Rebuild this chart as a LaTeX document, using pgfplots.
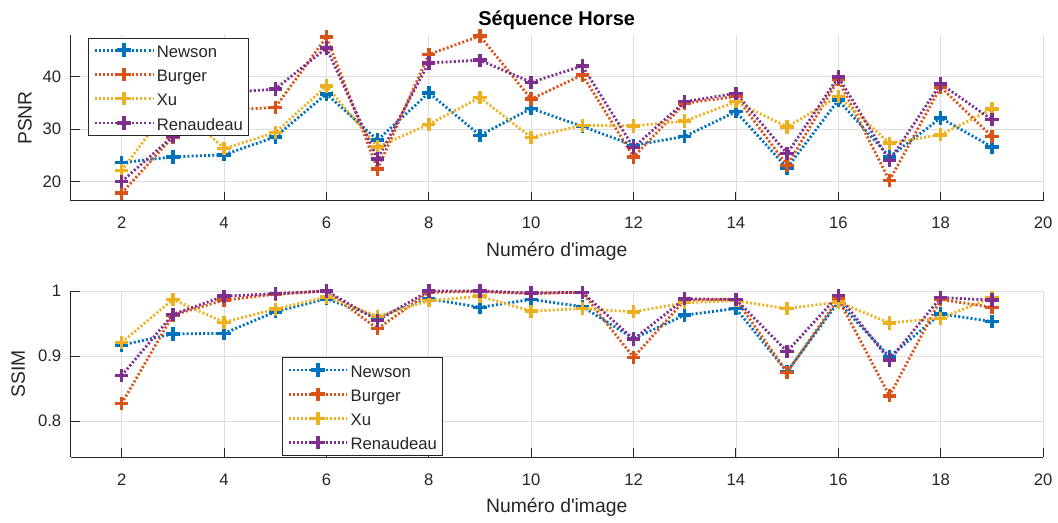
\documentclass[border=0pt]{standalone}
\usepackage{pgfplots}
\pgfplotsset{compat=1.18}
\usepackage{fontspec}
\setmainfont{Liberation Sans}
\definecolor{mblue}{rgb}{0,0.447,0.741}
\definecolor{morange}{rgb}{0.85,0.325,0.098}
\definecolor{myellow}{rgb}{0.929,0.694,0.125}
\definecolor{mpurple}{rgb}{0.494,0.184,0.556}
\definecolor{axgray}{rgb}{0.15,0.15,0.15}
\definecolor{gridgray}{rgb}{0.87,0.87,0.87}
\pgfplotsset{
  every axis title shift/.style={yshift=0pt},
  mystyle/.style={
    scale only axis, width=729.4pt, height=124.5pt,
    xmin=1, xmax=20, xtick={2,4,...,20},
    axis x line*=bottom, axis y line*=left,
    axis line style={axgray, line width=0.75pt, -},
    tick style={axgray, line width=0.75pt},
    major tick length=7pt, tick align=inside,
    grid=major, grid style={gridgray, line width=0.6pt},
    /pgf/number format/assume math mode=true,
    ticklabel style={font=\fontsize{12.5}{14}\selectfont, text=axgray},
    x tick label style={anchor=base, yshift=-21pt, inner sep=0pt},
    y tick label style={anchor=east, inner sep=0pt, xshift=-6.75pt},
    label style={font=\fontsize{14.5}{16}\selectfont, text=axgray},
    xlabel style={at={(axis description cs:0.5,-0.337)}, anchor=base},
    clip=false,
    legend cell align=left,
    legend image code/.code={\draw[mark repeat=2,mark phase=2] plot coordinates {(0pt,0pt) (22pt,0pt) (44pt,0pt)}; \path (45.5pt,0pt);},
    legend style={draw=axgray, line width=0.5pt, fill=white,
      font=\fontsize{12.5}{15}\selectfont, text=axgray,
      inner xsep=4pt, inner ysep=0pt, row sep=0pt,
      nodes={inner sep=0pt, text height=14.5pt, text depth=3.7pt}},
  },
  ser/.style={color=#1, line width=2.1pt, dash pattern=on 1.5pt off 1.6pt,
    mark=+, mark size=5pt, mark options={solid, line width=2.6pt}},
}
\begin{document}
\begin{tikzpicture}
\path[use as bounding box] (0pt,0pt) rectangle (793.5pt,391.5pt);
\begin{axis}[mystyle, at={(52.875pt,240.75pt)}, anchor=south west,
  ymin=16.3, ymax=47.9, ytick={20,30,40},
  title={Séquence Horse},
  title style={font=\fontsize{15}{17}\selectfont\bfseries, text=black, at={(axis description cs:0.5,1.012)}, anchor=base},
  ylabel={PSNR},
  ylabel style={at={(axis description cs:-0.0399,0.5)}, anchor=base},
  xlabel={Numéro d\textquotesingle image},
  legend style={at={(rel axis cs:0.0177,0.984)}, anchor=north west}]
\addplot[ser=mblue] coordinates {(2,23.6) (3,24.7) (4,25.1) (5,28.5) (6,36.7) (7,27.9) (8,36.9) (9,28.8) (10,33.9) (11,30.5) (12,26.9) (13,28.6) (14,33.3) (15,22.6) (16,35.5) (17,24.7) (18,32.1) (19,26.6)};
\addplot[ser=morange] coordinates {(2,17.8) (3,28.5) (4,33.6) (5,34.1) (6,47.5) (7,22.4) (8,44.2) (9,47.7) (10,35.7) (11,40.3) (12,24.7) (13,34.9) (14,36.2) (15,23.1) (16,39.4) (17,20.2) (18,38.0) (19,28.6)};
\addplot[ser=myellow] coordinates {(2,22.1) (3,35.2) (4,26.3) (5,29.3) (6,38.2) (7,26.6) (8,30.9) (9,36.0) (10,28.4) (11,30.7) (12,30.6) (13,31.5) (14,35.2) (15,30.4) (16,36.2) (17,27.3) (18,28.9) (19,33.8)};
\addplot[ser=mpurple] coordinates {(2,20.0) (3,28.6) (4,36.9) (5,37.6) (6,45.4) (7,24.3) (8,42.6) (9,43.1) (10,38.9) (11,42.0) (12,26.5) (13,35.2) (14,36.8) (15,25.3) (16,39.9) (17,24.0) (18,38.6) (19,31.8)};
\legend{Newson,Burger,Xu,Renaudeau}
\end{axis}
\begin{axis}[mystyle, at={(52.875pt,48.75pt)}, anchor=south west,
  ymin=0.745, ymax=1, ytick={0.8,0.9,1},
  ylabel={SSIM},
  ylabel style={at={(axis description cs:-0.0468,0.5)}, anchor=base},
  xlabel={Numéro d\textquotesingle image},
  legend style={at={(rel axis cs:0.217,0.5995)}, anchor=north west}]
\addplot[ser=mblue] coordinates {(2,0.917) (3,0.934) (4,0.935) (5,0.968) (6,0.988) (7,0.960) (8,0.988) (9,0.975) (10,0.987) (11,0.976) (12,0.927) (13,0.963) (14,0.973) (15,0.876) (16,0.983) (17,0.899) (18,0.965) (19,0.953)};
\addplot[ser=morange] coordinates {(2,0.827) (3,0.963) (4,0.986) (5,0.995) (6,1.0) (7,0.942) (8,0.998) (9,0.999) (10,0.996) (11,0.998) (12,0.898) (13,0.986) (14,0.987) (15,0.875) (16,0.988) (17,0.839) (18,0.987) (19,0.975)};
\addplot[ser=myellow] coordinates {(2,0.921) (3,0.987) (4,0.952) (5,0.972) (6,0.991) (7,0.961) (8,0.985) (9,0.992) (10,0.969) (11,0.973) (12,0.968) (13,0.982) (14,0.985) (15,0.973) (16,0.983) (17,0.951) (18,0.958) (19,0.990)};
\addplot[ser=mpurple] coordinates {(2,0.870) (3,0.964) (4,0.992) (5,0.996) (6,1.0) (7,0.955) (8,1.0) (9,1.0) (10,0.997) (11,0.998) (12,0.926) (13,0.988) (14,0.987) (15,0.907) (16,0.993) (17,0.894) (18,0.990) (19,0.986)};
\legend{Newson,Burger,Xu,Renaudeau}
\end{axis}
\end{tikzpicture}
\end{document}
